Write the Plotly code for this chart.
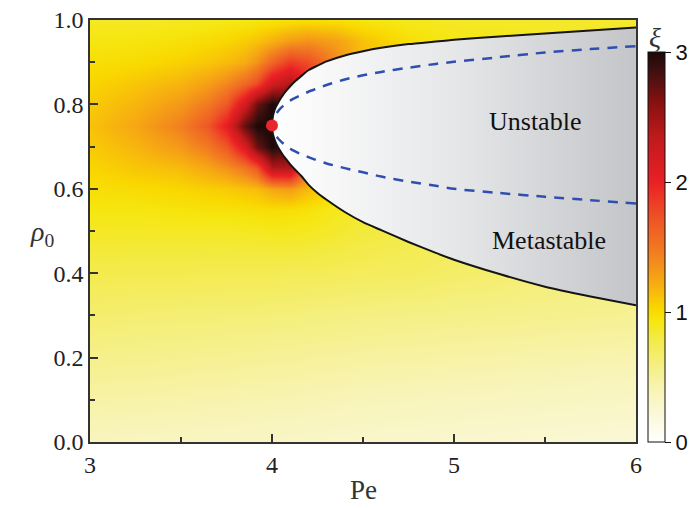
import plotly.graph_objects as go

# ---- data ----
pe_grid = [3.0, 3.25, 3.5, 3.65, 3.75, 3.85, 3.92, 4.0, 4.1, 4.2, 4.35, 4.5, 4.75, 5.0, 5.5, 6.0]
rho_grid = [0.0, 0.1, 0.2, 0.3, 0.4, 0.5, 0.55, 0.6, 0.65, 0.7, 0.75, 0.8, 0.85, 0.9, 0.95, 1.0]

xi_values = [
    [0.36, 0.35, 0.34, 0.335, 0.33, 0.33, 0.325, 0.32, 0.315, 0.31, 0.30, 0.29, 0.28, 0.27, 0.25, 0.23],
    [0.46, 0.45, 0.44, 0.43, 0.43, 0.42, 0.42, 0.41, 0.41, 0.40, 0.39, 0.38, 0.37, 0.36, 0.34, 0.32],
    [0.56, 0.55, 0.54, 0.53, 0.53, 0.52, 0.52, 0.51, 0.51, 0.50, 0.49, 0.48, 0.47, 0.46, 0.44, 0.42],
    [0.66, 0.65, 0.64, 0.64, 0.63, 0.63, 0.63, 0.62, 0.62, 0.61, 0.60, 0.59, 0.58, 0.57, 0.55, 0.53],
    [0.77, 0.76, 0.76, 0.75, 0.75, 0.75, 0.75, 0.75, 0.74, 0.74, 0.73, 0.72, 0.71, 0.68, 0.64, 0.62],
    [0.88, 0.88, 0.88, 0.88, 0.88, 0.89, 0.89, 0.90, 0.90, 0.89, 0.86, 0.82, 0.78, 0.74, 0.68, 0.64],
    [0.93, 0.93, 0.95, 0.96, 0.96, 0.97, 0.98, 0.99, 0.98, 0.96, 0.90, 0.85, 0.80, 0.75, 0.70, 0.66],
    [0.98, 1.00, 1.03, 1.06, 1.08, 1.12, 1.14, 1.25, 1.30, 1.15, 1.00, 0.90, 0.85, 0.80, 0.75, 0.70],
    [1.03, 1.10, 1.15, 1.25, 1.35, 1.50, 1.70, 2.40, 2.40, 1.50, 1.15, 1.00, 0.90, 0.85, 0.80, 0.75],
    [1.08, 1.18, 1.32, 1.48, 1.70, 2.15, 2.70, 3.00, 2.80, 1.70, 1.25, 1.05, 0.95, 0.90, 0.85, 0.80],
    [1.12, 1.25, 1.45, 1.70, 2.05, 2.75, 3.00, 3.00, 2.60, 1.90, 1.35, 1.10, 1.00, 0.95, 0.90, 0.85],
    [1.08, 1.18, 1.32, 1.48, 1.70, 2.20, 2.70, 3.00, 2.80, 2.00, 1.45, 1.15, 1.00, 0.95, 0.90, 0.88],
    [1.03, 1.10, 1.18, 1.28, 1.40, 1.58, 1.75, 2.20, 2.40, 2.00, 1.45, 1.15, 1.00, 0.95, 0.92, 0.90],
    [0.98, 1.00, 1.05, 1.10, 1.15, 1.22, 1.35, 1.60, 1.85, 1.75, 1.40, 1.15, 1.00, 0.95, 0.92, 0.90],
    [0.93, 0.94, 0.97, 1.00, 1.03, 1.07, 1.12, 1.20, 1.30, 1.35, 1.28, 1.12, 0.98, 0.92, 0.90, 0.90],
    [0.88, 0.88, 0.89, 0.90, 0.91, 0.92, 0.93, 0.95, 0.97, 0.98, 0.97, 0.94, 0.90, 0.88, 0.86, 0.85],
]

pe_curve = [4.0, 4.005, 4.01, 4.02, 4.03, 4.045, 4.06, 4.08, 4.1, 4.13, 4.16, 4.2,
            4.25, 4.3, 4.4, 4.5, 4.6, 4.75, 4.9, 5.0, 5.25, 5.5, 5.75, 6.0]
binodal_upper = [0.75, 0.772, 0.781, 0.793, 0.801, 0.812, 0.822, 0.833, 0.843, 0.856, 0.867, 0.881,
                 0.892, 0.902, 0.916, 0.926, 0.934, 0.943, 0.949, 0.953, 0.961, 0.968, 0.975, 0.982]
binodal_lower = [0.75, 0.730, 0.722, 0.710, 0.701, 0.690, 0.680, 0.669, 0.658, 0.644, 0.631, 0.610,
                 0.590, 0.574, 0.545, 0.521, 0.502, 0.474, 0.448, 0.432, 0.398, 0.368, 0.345, 0.324]
spinodal_upper = [0.75, 0.762, 0.767, 0.776, 0.782, 0.790, 0.796, 0.803, 0.809, 0.816, 0.822, 0.830,
                  0.838, 0.846, 0.859, 0.869, 0.877, 0.887, 0.896, 0.901, 0.912, 0.923, 0.931, 0.938]
spinodal_lower = [0.75, 0.739, 0.734, 0.726, 0.721, 0.714, 0.708, 0.701, 0.695, 0.688, 0.682, 0.675,
                  0.667, 0.660, 0.649, 0.639, 0.629, 0.617, 0.607, 0.600, 0.590, 0.581, 0.573, 0.565]

critical_pe = [4.0]
critical_rho = [0.75]

x_ticks = [3, 4, 5, 6]
y_ticks = [0.0, 0.2, 0.4, 0.6, 0.8, 1.0]
y_tick_labels = ["0.0", "0.2", "0.4", "0.6", "0.8", "1.0"]
cb_ticks = [0, 1, 2, 3]

colorscale = [
    [0.0, "#FFFFFF"],
    [0.07, "#FBF8DA"],
    [0.13, "#F8F4B8"],
    [0.20, "#F5EF80"],
    [0.27, "#F3EA40"],
    [0.31, "#F6E610"],
    [0.34, "#F9D800"],
    [0.40, "#F7B010"],
    [0.48, "#F28020"],
    [0.57, "#EE5526"],
    [0.667, "#EA2024"],
    [0.78, "#C01A1C"],
    [0.88, "#801010"],
    [0.95, "#401010"],
    [1.0, "#1E0808"],
]

serif = "Liberation Serif, Times New Roman, serif"

fig = go.Figure()

fig.add_trace(go.Heatmap(
    x=pe_grid, y=rho_grid, z=xi_values,
    zmin=0, zmax=3, zsmooth="best",
    colorscale=colorscale,
    colorbar=dict(
        x=1.022, xanchor="left", y=0, yanchor="bottom", xpad=0, ypad=0,
        len=0.923, lenmode="fraction", thickness=17, thicknessmode="pixels",
        outlinecolor="#111", outlinewidth=1,
        tickvals=cb_ticks, ticks="outside", ticklen=6, tickcolor="#111",
        tickfont=dict(family="Liberation Sans, Arial, sans-serif", size=22, color="#111"),
    ),
    hoverinfo="skip",
))

# gray two-phase region (binodal)
fill_x = pe_curve + pe_curve[::-1]
fill_y = binodal_upper + binodal_lower[::-1]
fig.add_trace(go.Scatter(
    x=fill_x, y=fill_y, mode="lines", line=dict(width=0),
    fill="toself",
    fillgradient=dict(type="horizontal",
                      colorscale=[[0, "#FFFFFF"], [0.5, "#E6E7E9"], [1, "#C4C5C8"]]),
    showlegend=False, hoverinfo="skip",
))

# binodal line
bx = pe_curve[::-1] + pe_curve[1:]
by = binodal_lower[::-1] + binodal_upper[1:]
fig.add_trace(go.Scatter(x=bx, y=by, mode="lines",
                         line=dict(color="#151515", width=2, shape="spline", smoothing=0.6),
                         showlegend=False, hoverinfo="skip"))

# spinodal line
sy = spinodal_lower[::-1] + spinodal_upper[1:]
fig.add_trace(go.Scatter(x=bx, y=sy, mode="lines",
                         line=dict(color="#2F4FB0", width=2.5, dash="10px,8px", shape="spline", smoothing=0.6),
                         showlegend=False, hoverinfo="skip"))

# critical point
fig.add_trace(go.Scatter(x=critical_pe, y=critical_rho, mode="markers",
                         marker=dict(color="#E8262C", size=12),
                         showlegend=False, hoverinfo="skip"))

axis_common = dict(
    showgrid=False, zeroline=False, showline=True, mirror=True,
    linecolor="#333", linewidth=1.5,
    ticks="inside", ticklen=8, tickwidth=1.5, tickcolor="#333",
    tickfont=dict(family=serif, size=24, color="#222"),
)

fig.update_xaxes(range=[3, 6], tickvals=x_ticks,
                 minor=dict(dtick=0.5, ticks="inside", ticklen=5, tickwidth=1.5, tickcolor="#333"),
                 **axis_common)
fig.update_yaxes(range=[0, 1], tickvals=y_ticks, ticktext=y_tick_labels,
                 minor=dict(dtick=0.1, ticks="inside", ticklen=5, tickwidth=1.5, tickcolor="#333"),
                 **axis_common)

fig.update_layout(
    width=691, height=508,
    margin=dict(l=90, r=55, t=20, b=66, autoexpand=False),
    paper_bgcolor="white", plot_bgcolor="white",
    showlegend=False,
    annotations=[
        dict(x=5.445, y=0.76, xref="x", yref="y", text="Unstable", showarrow=False,
             font=dict(family=serif, size=26, color="#111")),
        dict(x=5.52, y=0.478, xref="x", yref="y", text="Metastable", showarrow=False,
             font=dict(family=serif, size=26, color="#111")),
        dict(x=0.5, y=-0.1136, xref="paper", yref="paper", text="Pe", showarrow=False,
             yanchor="middle", font=dict(family=serif, size=27, color="#333")),
        dict(x=-0.1136, y=0.495, xref="paper", yref="paper", text="<i>ρ</i><sub>0</sub>",
             showarrow=False, font=dict(family=serif, size=28, color="#333")),
        dict(x=1.05, y=1.0, xref="paper", yref="paper", text="<i>ξ</i>", showarrow=False,
             font=dict(family=serif, size=28, color="#333")),
    ],
)

fig.write_html("out.html")
